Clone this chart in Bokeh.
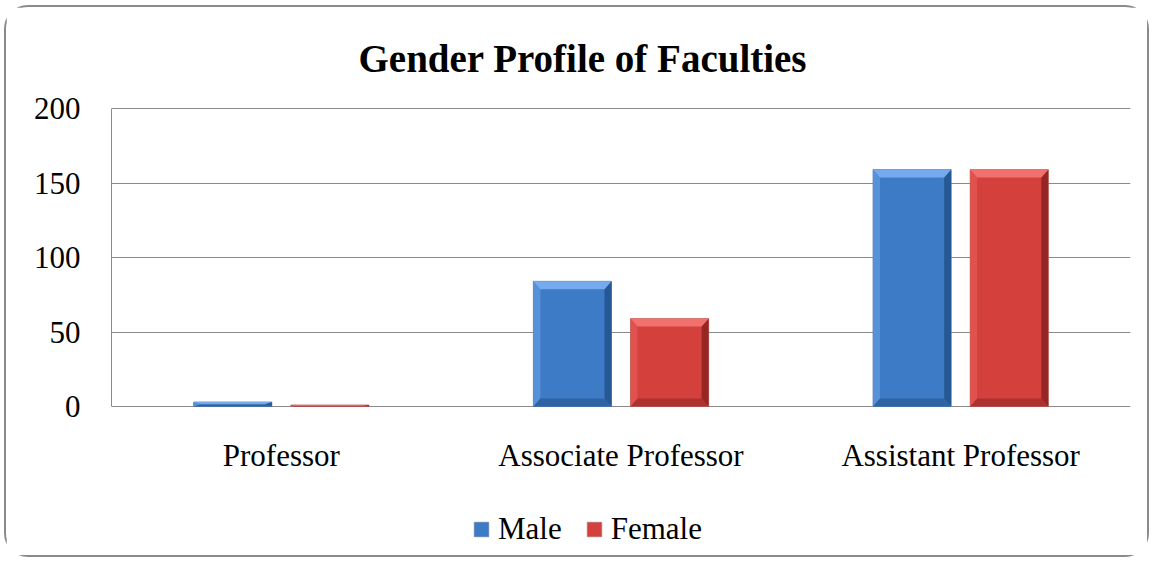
from bokeh.plotting import figure
from bokeh.models import FixedTicker, Legend, LegendItem, Range1d, ColumnDataSource
from bokeh.core.properties import value
from bokeh.embed import file_html
from bokeh.resources import INLINE

categories = ["Professor", "Associate Professor", "Assistant Professor"]
male = [3, 84, 159]
female = [1, 59, 159]
series_names = ["Male", "Female"]
y_ticks = [0, 50, 100, 150, 200]

FONT = "Liberation Serif"
W, H = 1145, 552
BORDER_L, BORDER_R, BORDER_T, BORDER_B = 105, 21, 99, 0
PX_PER_UNIT = 1.49
TOP_PAD_PX = 2
frame_h = H - BORDER_T - BORDER_B
y_max = 200 + TOP_PAD_PX / PX_PER_UNIT
y_min = y_max - frame_h / PX_PER_UNIT

p = figure(width=W, height=H, output_backend="svg", toolbar_location=None,
           x_range=Range1d(0, 3), y_range=Range1d(y_min, y_max), x_axis_location=None,
           min_border_left=BORDER_L, min_border_right=BORDER_R,
           min_border_top=BORDER_T, min_border_bottom=BORDER_B)
p.styles = {"border": "2px solid #8a8a8a", "border-radius": "24px",
            "margin-left": "4px", "margin-top": "5px"}
p.outline_line_color = None
p.background_fill_color = "white"

p.title.text = "Gender Profile of Faculties"
p.title.text_font = FONT
p.title.text_font_size = "39px"
p.title.text_font_style = "bold"
p.title.text_color = "black"
p.title.align = "left"
p.title.standoff = 54
p.title.offset = 247

# y axis
p.yaxis.ticker = FixedTicker(ticks=y_ticks)
p.yaxis.bounds = (0, 200)
p.yaxis.major_label_text_font = FONT
p.yaxis.major_label_text_font_size = "31px"
p.yaxis.major_label_text_color = "black"
p.yaxis.major_label_standoff = 25
p.yaxis.major_tick_line_color = None
p.yaxis.minor_tick_line_color = None
p.yaxis.axis_line_color = "#8a8a8a"

p.xgrid.grid_line_color = None
p.ygrid.ticker = FixedTicker(ticks=y_ticks)
p.ygrid.grid_line_color = "#8a8a8a"
p.ygrid.grid_line_width = 1

# category labels under the zero line
cat_x = [i + 0.5 for i in range(len(categories))]
p.text(x=cat_x, y=[0] * len(categories), text=categories, y_offset=49,
       text_align="center", text_baseline="middle", text_font_size="31px",
       text_font=value(FONT), text_color="black")

bar_w = 0.23
gap = 0.056
offsets = [-(bar_w + gap) / 2, (bar_w + gap) / 2]
palettes = [
    dict(main="#3d7bc7", top="#78aef0", left="#5a93dc", right="#24548f", bottom="#2d609e", line="#5a7fae"),
    dict(main="#d4403c", top="#f27470", left="#e0544f", right="#8f2421", bottom="#a8302c", line="#b86a68"),
]
dx = 7 / 340.0
dy_px = 8

renderers = []
for s, vals in enumerate([male, female]):
    pal = palettes[s]
    xs_c = [c + offsets[s] for c in cat_x]
    src = ColumnDataSource(dict(x=xs_c, top=vals))
    r = p.vbar(x="x", top="top", width=bar_w, source=src, fill_color=pal["main"],
               line_color=pal["line"], line_alpha=0.8, line_width=1)
    renderers.append(r)
    tops_x, tops_y, lx, ly, rx, ry, bx, by = [], [], [], [], [], [], [], []
    for xc, v in zip(xs_c, vals):
        x0, x1 = xc - bar_w / 2, xc + bar_w / 2
        y0, y1 = 0.0, float(v)
        dy = min(dy_px / PX_PER_UNIT, v / 2.0)
        ddx = dx
        tops_x.append([x0, x1, x1 - ddx, x0 + ddx]); tops_y.append([y1, y1, y1 - dy, y1 - dy])
        lx.append([x0, x0, x0 + ddx, x0 + ddx]); ly.append([y0, y1, y1 - dy, y0 + dy])
        rx.append([x1, x1, x1 - ddx, x1 - ddx]); ry.append([y0, y1, y1 - dy, y0 + dy])
        bx.append([x0, x1, x1 - ddx, x0 + ddx]); by.append([y0, y0, y0 + dy, y0 + dy])
    p.patches(lx, ly, fill_color=pal["left"], line_color=None, fill_alpha=0.9)
    p.patches(rx, ry, fill_color=pal["right"], line_color=None, fill_alpha=0.9)
    p.patches(bx, by, fill_color=pal["bottom"], line_color=None, fill_alpha=0.9)
    p.patches(tops_x, tops_y, fill_color=pal["top"], line_color=None, fill_alpha=0.95)

legend = Legend(items=[LegendItem(label=series_names[i], renderers=[renderers[i]]) for i in range(2)],
                orientation="horizontal", location=(361, 12))
legend.label_text_font = FONT
legend.label_text_font_size = "31px"
legend.label_text_color = "black"
legend.glyph_width = 18
legend.glyph_height = 18
legend.label_standoff = 8
legend.spacing = 23
legend.border_line_color = None
legend.background_fill_alpha = 0
legend.padding = 0
legend.margin = 0
p.add_layout(legend, "center")

open("out.html", "w").write(file_html(p, INLINE))
